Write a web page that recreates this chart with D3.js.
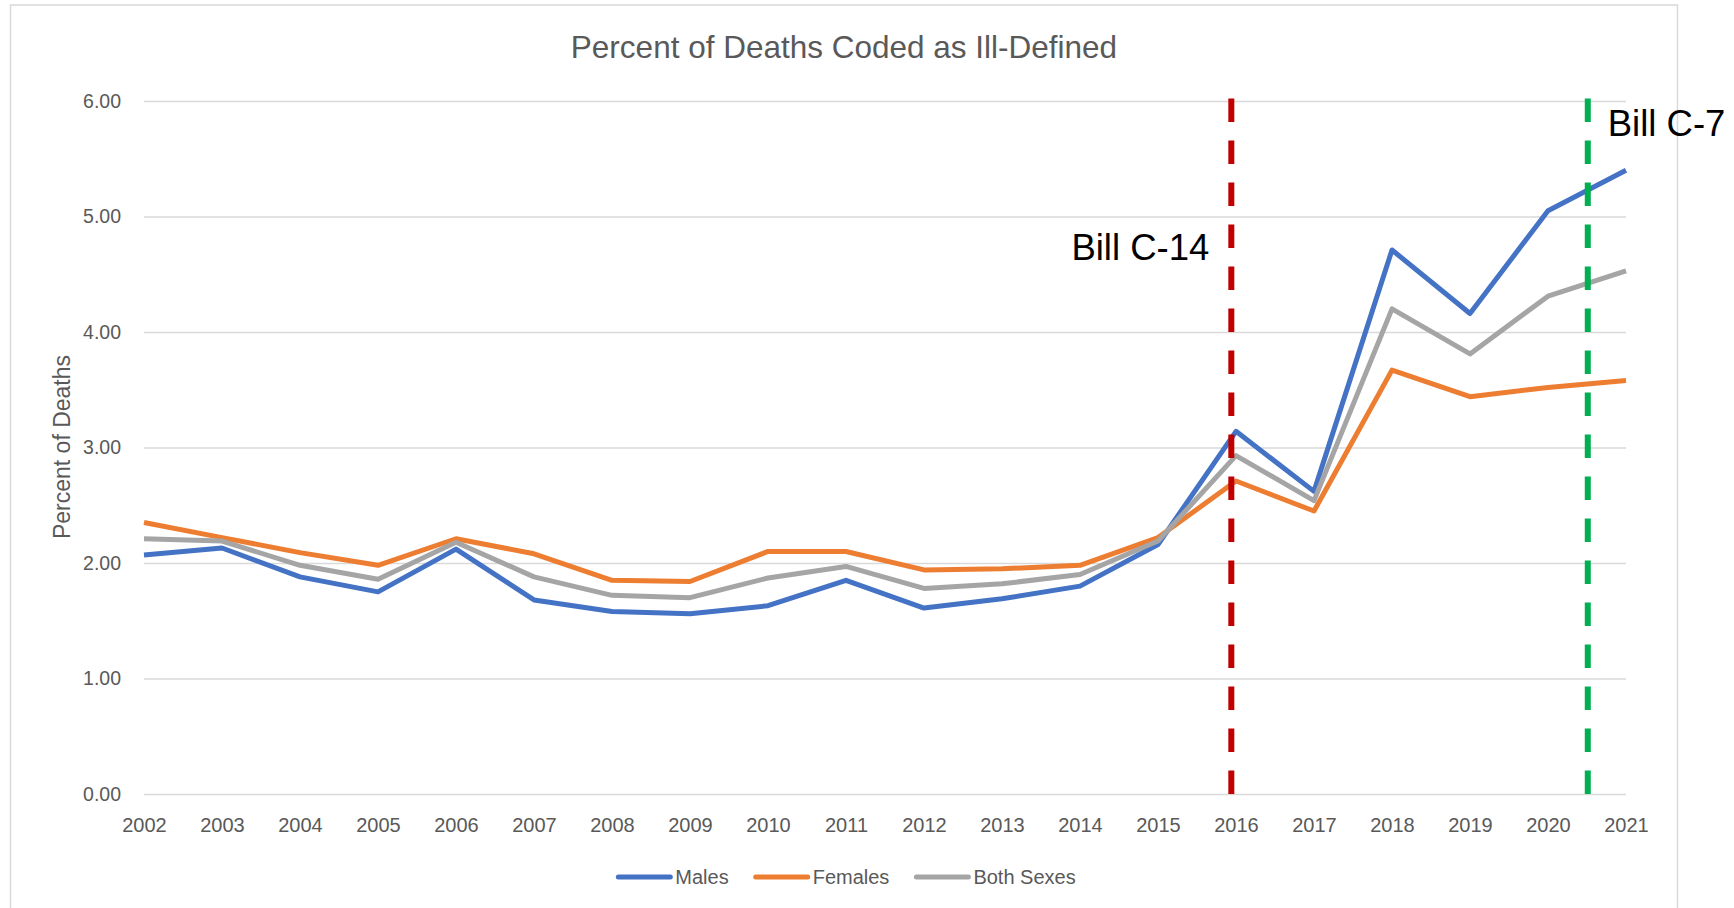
<!DOCTYPE html>
<html>
<head>
<meta charset="utf-8">
<script src="https://cdn.jsdelivr.net/npm/d3@7"></script>
<style>
  html, body { margin: 0; padding: 0; background: #ffffff; }
  svg { display: block; }
</style>
</head>
<body>
<svg id="chart" width="1734" height="908"></svg>
<script>
// ---------- DATA ----------
const years = [2002, 2003, 2004, 2005, 2006, 2007, 2008, 2009, 2010, 2011,
               2012, 2013, 2014, 2015, 2016, 2017, 2018, 2019, 2020, 2021];
const males   = [2.07, 2.13, 1.88, 1.75, 2.12, 1.68, 1.58, 1.56, 1.63, 1.85,
                 1.61, 1.69, 1.80, 2.16, 3.14, 2.62, 4.71, 4.16, 5.05, 5.40];
const females = [2.35, 2.22, 2.09, 1.98, 2.21, 2.08, 1.85, 1.84, 2.10, 2.10,
                 1.94, 1.95, 1.98, 2.22, 2.71, 2.45, 3.67, 3.44, 3.52, 3.58];
const both    = [2.21, 2.19, 1.98, 1.86, 2.18, 1.88, 1.72, 1.70, 1.87, 1.97,
                 1.78, 1.82, 1.90, 2.19, 2.93, 2.54, 4.20, 3.81, 4.31, 4.53];
const seriesNames = ["Males", "Females", "Both Sexes"];
const yTicks = [0, 1, 2, 3, 4, 5, 6];
const billNames = ["Bill C-14", "Bill C-7"];
const billYears = [2015.94, 2020.51];

const title = "Percent of Deaths Coded as Ill-Defined";
const yTitle = "Percent of Deaths";

// ---------- STYLE ----------
const seriesColors = ["#4472C4", "#ED7D31", "#A5A5A5"];
const billColors = ["#C00000", "#00B050"];
const textGray = "#595959";
const gridGray = "#D9D9D9";
const font = "'Liberation Sans', Arial, sans-serif";

const svg = d3.select("#chart");

// chart area border
svg.append("rect")
  .attr("x", 10.5).attr("y", 5).attr("width", 1667).attr("height", 1000)
  .attr("fill", "#fff").attr("stroke", gridGray).attr("stroke-width", 1.5);

const x = d3.scaleLinear().domain([2002, 2021]).range([144, 1626]);
const y = d3.scaleLinear().domain([0, 6]).range([794, 101]);

// title
svg.append("text")
  .attr("x", 844).attr("y", 58)
  .attr("text-anchor", "middle")
  .attr("font-family", font).attr("font-size", 31.5)
  .attr("fill", textGray)
  .text(title);

// y gridlines + labels via axis
const yAxis = d3.axisLeft(y)
  .tickValues(yTicks)
  .tickSize(-(x.range()[1] - x.range()[0]))
  .tickPadding(23)
  .tickFormat(d3.format(".2f"));

const yg = svg.append("g")
  .attr("transform", `translate(${x.range()[0]},0)`)
  .call(yAxis);
yg.select(".domain").remove();
yg.selectAll(".tick line").attr("stroke", gridGray).attr("stroke-width", 1.5);
yg.selectAll(".tick text")
  .attr("font-family", font).attr("font-size", 19.5)
  .attr("fill", textGray);

// x axis labels
const xAxis = d3.axisBottom(x)
  .tickValues(years)
  .tickSize(0)
  .tickPadding(24)
  .tickFormat(d3.format("d"));
const xg = svg.append("g")
  .attr("transform", `translate(0,${y(0)})`)
  .call(xAxis);
xg.select(".domain").remove();
xg.selectAll(".tick text")
  .attr("font-family", font).attr("font-size", 20)
  .attr("fill", textGray);

// y axis title
svg.append("text")
  .attr("transform", `translate(70,447) rotate(-90)`)
  .attr("text-anchor", "middle")
  .attr("font-family", font).attr("font-size", 23)
  .attr("fill", textGray)
  .text(yTitle);

// series lines
const seriesData = [males, females, both];
const line = d3.line()
  .x((d, i) => x(years[i]))
  .y(d => y(d));

svg.append("g").selectAll("path")
  .data(seriesData)
  .join("path")
  .attr("d", d => line(d))
  .attr("fill", "none")
  .attr("stroke", (d, i) => seriesColors[i])
  .attr("stroke-width", 5)
  .attr("stroke-linejoin", "round")
  .attr("stroke-linecap", "butt");

// bill annotation lines
const bills = svg.append("g");
bills.selectAll("line")
  .data(billYears)
  .join("line")
  .attr("x1", d => x(d)).attr("x2", d => x(d))
  .attr("y1", y(6) - 2.5).attr("y2", y(0))
  .attr("stroke", (d, i) => billColors[i])
  .attr("stroke-width", 6)
  .attr("stroke-dasharray", "23.5,18.5");

// bill labels
svg.append("text")
  .attr("x", x(billYears[0]) - 22).attr("y", 260)
  .attr("text-anchor", "end")
  .attr("font-family", font).attr("font-size", 36.5)
  .attr("fill", "#000")
  .text(billNames[0]);
svg.append("text")
  .attr("x", x(billYears[1]) + 20).attr("y", 136)
  .attr("text-anchor", "start")
  .attr("font-family", font).attr("font-size", 36.5)
  .attr("fill", "#000")
  .text(billNames[1]);

// legend
const legend = svg.append("g");
const lineLen = 52, lineGap = 5, itemGap = 27, legendY = 877;
const items = seriesNames.map((name, i) => {
  const g = legend.append("g");
  g.append("line")
    .attr("x1", 0).attr("x2", lineLen)
    .attr("y1", 0).attr("y2", 0)
    .attr("stroke", seriesColors[i]).attr("stroke-width", 5)
    .attr("stroke-linecap", "round");
  const t = g.append("text")
    .attr("x", lineLen + lineGap).attr("y", 7)
    .attr("font-family", font).attr("font-size", 20)
    .attr("fill", textGray)
    .text(name);
  return { g, w: lineLen + lineGap + t.node().getComputedTextLength() };
});
const totalW = d3.sum(items, d => d.w) + itemGap * (items.length - 1);
let cx = 847 - totalW / 2;
items.forEach(it => {
  it.g.attr("transform", `translate(${cx},${legendY})`);
  cx += it.w + itemGap;
});
</script>
</body>
</html>
